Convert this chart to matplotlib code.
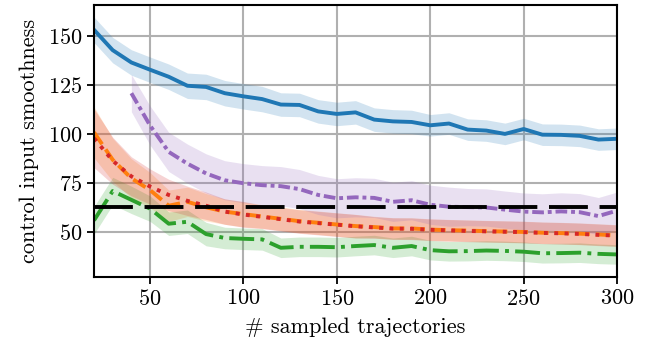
import numpy as np
import matplotlib
matplotlib.use('Agg')
import matplotlib.pyplot as plt

plt.rcParams['font.family'] = 'serif'
plt.rcParams['font.serif'] = ['cmr10']
plt.rcParams['mathtext.fontset'] = 'cm'
plt.rcParams['axes.formatter.use_mathtext'] = True

# number of sampled trajectories
n_traj = np.arange(20, 301, 10)
n_traj_purple = np.arange(40, 301, 10)

# mean smoothness per method
blue = [153.4, 143, 136.7, 133, 129.4, 124.8, 124.2, 121, 119.4, 118, 115.2, 115, 111.7, 110.4, 111.2,
        107.5, 106.6, 106.3, 104.6, 105.5, 102.4, 101.9, 100.2, 102.7, 99.8, 99.7, 99.2, 97.3, 97.7]
orange = [101, 87, 77.5, 71.5, 63.5, 65.5, 62.7, 60.5, 59.2, 58, 56.8, 55.6, 54.8, 53.9, 53.1,
          52.6, 51.9, 51.9, 51.3, 51, 50.8, 50.5, 50.3, 50.1, 49.7, 49.5, 49.2, 48.8, 48.3]
green = [56, 71, 66.5, 62, 54.3, 55.3, 49, 47, 46.6, 46.3, 42, 42.5, 42.5, 42.3, 42.9,
         43.4, 42, 42.9, 40.8, 40.2, 40.3, 40.6, 40.4, 40, 39.2, 39.3, 39.5, 38.9, 38.6]
red = [98, 86.5, 78.5, 73.3, 69, 66, 63.5, 60.5, 59, 57.8, 56.6, 55.4, 54.6, 53.8, 53,
       52.4, 51.8, 51.7, 51.2, 50.9, 50.6, 50.4, 50.2, 50, 49.6, 49.4, 49.1, 48.6, 48.2]
purple = [121, 104.5, 91, 85, 80, 76.5, 75, 74, 73.5, 72, 69, 67.3, 67.8, 67.5, 65.5,
          66.3, 64, 63, 62.8, 62.6, 61.5, 60.5, 60.1, 60.6, 60.2, 58.2, 61]

# spread (std) per method
blue_std = [6.5, 6.5, 6.5, 6.5, 6.5, 6.5, 6.5, 6.5, 6.5, 6.5, 6, 6, 6, 6, 6,
            6, 6, 6, 5.5, 5.5, 5.5, 5.5, 5.5, 5.5, 5.5, 5.5, 5.5, 5.5, 5.5]
orange_std = [13, 11, 10, 9, 8, 7.5, 7, 6.5, 6.5, 6, 6, 6, 6, 6, 6,
              5.5, 5.5, 5.5, 5.5, 5.5, 5.5, 5.5, 5.5, 5.5, 5.5, 5.5, 5.5, 5.5, 5.5]
green_std = [7, 7, 7, 6.5, 6, 6, 6, 5.5, 5.5, 5.5, 5, 5, 5, 5, 5,
             5, 5, 5, 5, 5, 5, 5, 5, 5, 5, 5, 5, 5, 5]
red_std = [15, 12, 10, 9, 8, 7.5, 7, 6.5, 6.5, 6, 6, 6, 6, 6, 6,
           5.5, 5.5, 5.5, 5.5, 5.5, 5.5, 5.5, 5.5, 5.5, 5.5, 5.5, 5.5, 5.5, 5.5]
purple_std = [9.5, 10, 10, 10, 10, 10, 10, 10, 10, 10, 10, 10, 10, 10, 10,
              10, 10, 10, 9.5, 9.5, 9.5, 9.5, 9.5, 9.5, 9.5, 9.5, 9.5]

baseline = 63

fig = plt.figure(figsize=(6.51, 3.43), dpi=100)
ax = fig.add_axes([0.1444, 0.192, 0.8035, 0.793])

lw = 2.8
series = [
    (n_traj, blue, blue_std, 'C0', '-'),
    (n_traj, orange, orange_std, 'C1', '--'),
    (n_traj, green, green_std, 'C2', '-.'),
    (n_traj, red, red_std, 'C3', ':'),
    (n_traj_purple, purple, purple_std, 'C4', (0, (3, 1, 1, 1))),
]
for xs, m, s, c, ls in series:
    m = np.array(m)
    s = np.array(s)
    ax.fill_between(xs, m - s, m + s, color=c, alpha=0.2, linewidth=0)
for xs, m, s, c, ls in series:
    ax.plot(xs, m, color=c, linestyle=ls, linewidth=lw)

ax.axhline(baseline, color='black', linewidth=lw, dashes=(10, 3))

ax.set_xlim(20, 300)
ax.set_ylim(27, 166)
ax.set_xticks([50, 100, 150, 200, 250, 300])
ax.set_yticks([50, 75, 100, 125, 150])
ax.grid(True, color='#b0b0b0', linewidth=1.5)
ax.set_axisbelow(True)
for sp in ax.spines.values():
    sp.set_linewidth(1.5)
ax.tick_params(labelsize=16, length=5, width=1.3)
ax.set_xlabel('# sampled trajectories', fontsize=16, labelpad=6)
ax.set_ylabel('control input smoothness', fontsize=16, labelpad=6)

fig.savefig('out.png', dpi=100)
